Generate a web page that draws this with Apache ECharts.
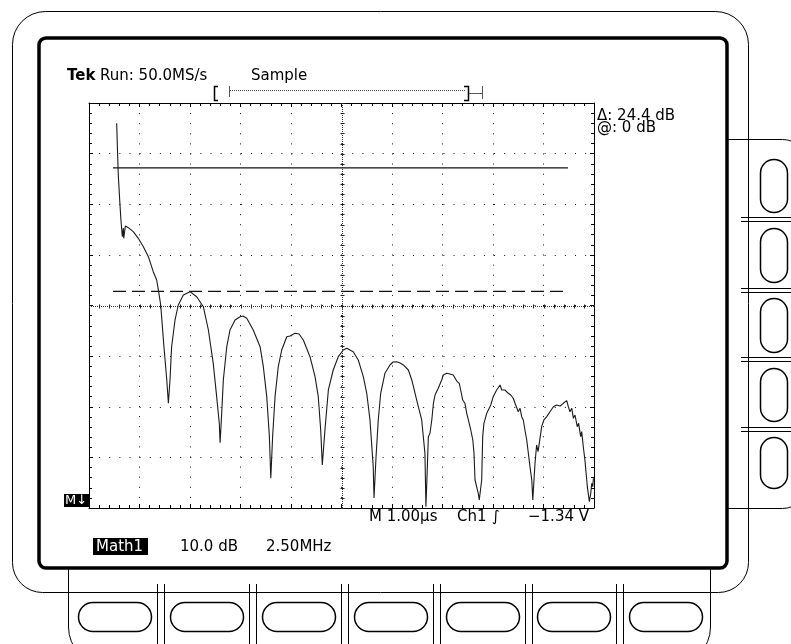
<!DOCTYPE html>
<html><head><meta charset="utf-8">
<script src="https://cdn.jsdelivr.net/npm/echarts@6/dist/echarts.min.js"></script>
<style>html,body{margin:0;padding:0;background:#fff}#c{width:791px;height:644px}</style>
</head><body><div id="c"></div>
<script>
// ---- data (frequency in MHz, level in dB) ----
const freqMHz = [1.37,1.41,1.45,1.52,1.58,1.65,1.70,1.72,1.80,1.95,2.19,2.44,2.69,2.94,3.18,3.35,3.43,3.55,3.71,3.85,3.93,
4.01,4.09,4.26,4.42,4.67,5.00,5.33,5.66,5.91,6.15,6.32,6.45,6.49,
6.57,6.65,6.82,6.98,7.23,7.48,7.62,7.81,8.13,8.47,8.63,8.80,8.93,9.00,
9.09,9.21,9.37,9.54,9.79,9.95,10.20,10.40,10.61,10.94,11.19,11.35,11.47,11.55,
11.68,11.85,12.09,12.34,12.59,12.76,12.92,13.08,13.33,13.58,13.75,13.91,14.07,14.11,
14.21,14.32,14.44,14.65,14.90,15.05,15.23,15.40,15.56,15.81,15.98,16.22,16.47,16.63,16.68,
16.75,16.80,16.88,16.97,17.05,17.13,17.21,17.29,17.38,17.46,17.54,17.71,17.87,18.03,18.12,18.23,18.33,18.40,18.50,18.61,18.70,18.78,18.90,19.00,19.06,19.11,19.19,19.27,19.32,
19.44,19.49,19.55,19.69,19.77,19.89,20.01,20.18,20.26,20.35,20.43,20.51,20.59,20.76,20.88,21.00,21.09,21.17,21.25,21.34,21.42,21.50,21.58,21.67,21.75,21.83,21.92,21.97,
22.08,22.16,22.23,22.29,22.41,22.52,22.66,22.82,22.99,23.15,23.32,23.48,23.65,23.73,23.81,23.90,23.98,24.06,24.17,24.24,24.34,24.39,24.47,24.55,24.67,24.77,24.84,24.89,24.94,24.97];
const levelDb = [8.79,3.52,-1.42,-6.36,-10.31,-13.61,-11.89,-13.93,-11.50,-11.83,-12.62,-13.93,-15.59,-17.56,-20.52,-22.16,-24.00,-27.10,-35.34,-41.91,-46.52,
-41.91,-35.34,-30.06,-27.10,-25.12,-24.47,-25.46,-27.44,-32.04,-38.62,-45.21,-50.47,-54.30,
-48.43,-41.91,-35.34,-32.04,-30.06,-29.41,-29.27,-29.73,-32.04,-35.34,-39.29,-45.21,-53.11,-61.33,
-53.11,-45.21,-39.29,-35.99,-33.36,-33.22,-32.69,-32.83,-34.01,-37.31,-41.26,-45.21,-51.79,-58.70,
-51.79,-43.89,-39.94,-37.31,-35.99,-35.65,-35.99,-36.32,-37.96,-41.26,-44.54,-49.81,-59.03,-65.22,
-57.06,-49.81,-44.54,-40.59,-38.95,-38.36,-38.30,-38.56,-38.95,-39.94,-41.91,-45.86,-49.81,-56.39,-66.94,
-59.03,-53.11,-52.44,-49.81,-46.52,-44.88,-44.54,-43.56,-43.24,-41.91,-40.93,-40.59,-40.73,-40.93,-41.26,-42.25,-42.57,-43.89,-45.87,-46.52,-48.50,-49.81,-51.79,-53.77,-56.39,-61.67,-61.33,-64.29,-65.62,
-61.67,-53.11,-50.47,-48.50,-47.84,-46.85,-45.21,-43.89,-44.22,-42.90,-43.89,-44.22,-43.89,-44.54,-44.88,-45.53,-46.52,-46.85,-48.18,-47.51,-49.16,-49.81,-51.79,-53.77,-56.39,-59.03,-61.67,-65.62,
-58.37,-54.75,-56.08,-54.42,-51.14,-49.81,-49.16,-48.18,-47.19,-46.85,-47.05,-46.52,-46.00,-47.19,-48.18,-47.51,-49.48,-48.83,-51.14,-50.47,-53.11,-52.12,-55.09,-57.72,-62.99,-65.95,-64.29,-62.32,-62.99,-61.33];
const cursorLevelsDb = [0, -24.4];
const cursorSpanMHz = [1.19, 23.71];
const freqRange = [0, 25];       // 2.50 MHz/div, 10 div
const dbRange = [-67.2, 12.8];   // 10.0 dB/div, 8 div
const divX = [-5, 5];
const divY = [-4, 4];

const SF = '"DejaVu Sans",sans-serif';
const chart = echarts.init(document.getElementById('c'), null, {renderer:'canvas'});

function frameAxis(pos, range, split, dashPeriod){
  return {
    type:'value', min:range[0], max:range[1], interval:1, position:pos,
    axisLine:{show:true, onZero:false, lineStyle:{color:'#000', width:1}},
    axisTick:{show:true, inside:true, length:4, lineStyle:{color:'#000'}},
    minorTick:{show:true, splitNumber:5, length:3, lineStyle:{color:'#000'}},
    axisLabel:{show:false},
    splitLine:{show:split, lineStyle:{color:'#111', width:1, type:[1, dashPeriod-1]}}
  };
}

const pairs = freqMHz.map((f,i)=>[f, levelDb[i]]);

const black = {stroke:'#000', fill:null, lineWidth:1};
const g = [];
// outer bezel
g.push({type:'rect', shape:{x:12.5,y:11.5,width:736,height:581,r:[33,33,30,30]}, style:black, z:1});
// right button panel
g.push({type:'rect', shape:{x:727.5,y:139.5,width:80,height:369,r:[0,25,25,0]}, style:black, z:1});
// bottom button panel
g.push({type:'rect', shape:{x:68.5,y:568,width:642,height:97,r:[0,0,38,38]}, style:black, z:1});
// inner thick frame
g.push({type:'rect', shape:{x:39,y:38,width:688,height:530,r:7}, style:{stroke:'#000', fill:null, lineWidth:3.5}, z:2});
// right buttons
[[159,212],[228,282],[298,352],[368,421],[437,488]].forEach(b=>{
  g.push({type:'rect', shape:{x:760.5,y:b[0]+0.5,width:27,height:b[1]-b[0],r:13.5}, style:{stroke:'#000',fill:null,lineWidth:1.5}, z:3});
});
[217,288,357,427].forEach(y=>{
  g.push({type:'line', shape:{x1:741,y1:y+0.5,x2:791,y2:y+0.5}, style:black, z:3});
  g.push({type:'line', shape:{x1:741,y1:y+4.5,x2:791,y2:y+4.5}, style:black, z:3});
});
// bottom buttons
[78,170,262,354,446,537,629].forEach(x=>{
  g.push({type:'rect', shape:{x:x+0.5,y:602.5,width:73,height:29,r:14.5}, style:{stroke:'#000',fill:null,lineWidth:1.5}, z:3});
});
[157,249,341,433,525,616].forEach(x=>{
  g.push({type:'line', shape:{x1:x+0.5,y1:584,x2:x+0.5,y2:644}, style:black, z:3});
  g.push({type:'line', shape:{x1:x+7.5,y1:584,x2:x+7.5,y2:644}, style:black, z:3});
});
// record view bar
g.push({type:'polyline', shape:{points:[[218,86.5],[214.5,86.5],[214.5,100.5],[218,100.5]]}, style:{stroke:'#000',fill:null,lineWidth:1.5}, z:5});
g.push({type:'line', shape:{x1:229.5,y1:86,x2:229.5,y2:97}, style:{stroke:'#555',lineWidth:1}, z:5});
g.push({type:'line', shape:{x1:230,y1:90.5,x2:466,y2:90.5}, style:{stroke:'#444',lineWidth:1,lineDash:[1,1]}, z:5});
g.push({type:'polyline', shape:{points:[[464,86.5],[468.5,86.5],[468.5,100.5],[464,100.5]]}, style:{stroke:'#000',fill:null,lineWidth:1.5}, z:5});
g.push({type:'line', shape:{x1:469,y1:93.5,x2:482,y2:93.5}, style:{stroke:'#555',lineWidth:1}, z:5});
g.push({type:'line', shape:{x1:482.5,y1:86,x2:482.5,y2:99}, style:{stroke:'#555',lineWidth:1}, z:5});

function txt(t,x,y,size,opts){
  opts = opts||{};
  return {type:'text', x:x, y:y, z:6, style:{text:t, font:(opts.bold?'bold ':'')+size+'px '+SF, fill:opts.fill||'#000', verticalAlign:'middle', align:opts.align||'left'}};
}
g.push(txt('Tek',67,76,15,{bold:true}));
g.push(txt('Run: 50.0MS/s',100,76,15));
g.push(txt('Sample',251,76,15));
g.push(txt('\u0394: 24.4 dB',597,116,15));
g.push(txt('@: 0 dB',597,128.5,15));
g.push({type:'rect', shape:{x:64,y:494,width:25,height:13}, style:{fill:'#000'}, z:5});
g.push(txt('M\u2193',65,501,13,{fill:'#fff'}));
g.push(txt('M 1.00\u00b5s',369,517,15));
g.push(txt('Ch1',457,517,15));
g.push(txt('\u222b',492,517,15));
g.push(txt('\u22121.34 V',528,517,15));
g.push({type:'rect', shape:{x:93,y:538,width:55,height:17}, style:{fill:'#000'}, z:5});
g.push(txt('Math1',96,547,15,{fill:'#fff'}));
g.push(txt('10.0 dB',180,547,15));
g.push(txt('2.50MHz',266,547,15));

chart.setOption({
  animation:false,
  backgroundColor:'#fff',
  grid:{left:89, top:103, width:505, height:405, show:false},
  xAxis:[
    {type:'value', min:freqRange[0], max:freqRange[1], show:false},
    frameAxis('bottom', divX, true, 505/50),
    frameAxis('top', divX, false, 505/50)
  ],
  yAxis:[
    {type:'value', min:dbRange[0], max:dbRange[1], show:false},
    frameAxis('left', divY, true, 405/40),
    frameAxis('right', divY, false, 405/40)
  ],
  graphic:{elements:g},
  series:[
    {type:'custom', xAxisIndex:1, yAxisIndex:1, silent:true, z:1, data:[[0,0]],
     renderItem:function(params, api){
       const ch = [];
       const l = api.coord([divX[0],0]), r = api.coord([divX[1],0]);
       const t = api.coord([0,divY[1]]), b = api.coord([0,divY[0]]);
       const cx = Math.round(l[0] + (r[0]-l[0])/2)+0.5, cy = Math.round(t[1]+(b[1]-t[1])/2)+0.5;
       ch.push({type:'line', shape:{x1:l[0],y1:cy,x2:r[0],y2:cy}, style:{stroke:'#333',lineWidth:1,lineDash:[1,1]}});
       ch.push({type:'line', shape:{x1:cx,y1:t[1],x2:cx,y2:b[1]}, style:{stroke:'#333',lineWidth:1,lineDash:[1,1]}});
       for(let k=divX[0]*5;k<=divX[1]*5;k++){
         const p = api.coord([k/5,0]);
         const x = Math.round(p[0])+0.5;
         ch.push({type:'line', shape:{x1:x,y1:cy-2,x2:x,y2:cy+2}, style:{stroke:'#222',lineWidth:1}});
       }
       for(let k=divY[0]*5;k<=divY[1]*5;k++){
         const p = api.coord([0,k/5]);
         const y = Math.round(p[1])+0.5;
         ch.push({type:'line', shape:{x1:cx-2,y1:y,x2:cx+2,y2:y}, style:{stroke:'#222',lineWidth:1}});
       }
       return {type:'group', children:ch};
     }},
    {type:'line', name:'cursor1', xAxisIndex:0, yAxisIndex:0, silent:true, symbol:'none', z:3,
     data:cursorSpanMHz.map(f=>[f, cursorLevelsDb[0]]), lineStyle:{color:'#111', width:1.3}},
    {type:'line', name:'cursor2', xAxisIndex:0, yAxisIndex:0, silent:true, symbol:'none', z:3,
     data:cursorSpanMHz.map(f=>[f, cursorLevelsDb[1]]), lineStyle:{color:'#111', width:1.3, type:[13,6]}},
    {type:'line', name:'Math1', xAxisIndex:0, yAxisIndex:0, silent:true, symbol:'none', z:4,
     data:pairs, lineStyle:{color:'#1a1a1a', width:1.1}}
  ]
});
</script></body></html>
